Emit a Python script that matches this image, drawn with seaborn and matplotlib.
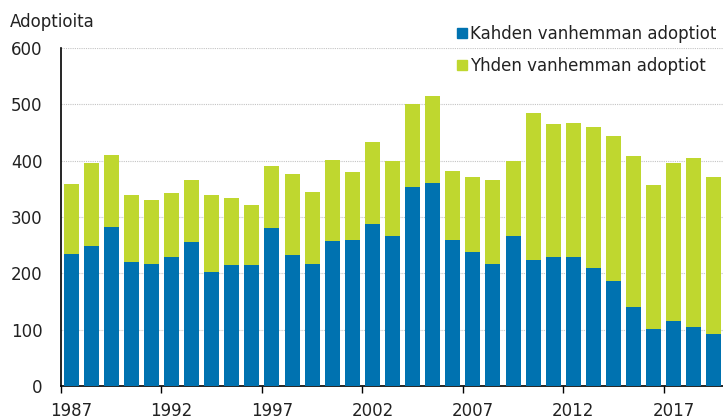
import numpy as np
import pandas as pd
import matplotlib
matplotlib.use('Agg')
from matplotlib import pyplot as plt
from matplotlib.lines import Line2D
import seaborn as sns

years = list(range(1987, 2020))
kahden = [235, 249, 283, 220, 217, 229, 255, 203, 215, 215, 280, 232, 217, 258, 260,
          288, 266, 354, 360, 260, 238, 217, 266, 223, 229, 229, 209, 186, 141, 101,
          115, 104, 93]
yhteensa = [359, 396, 410, 339, 331, 342, 365, 339, 334, 322, 391, 376, 345, 402, 379,
            433, 399, 501, 515, 382, 371, 365, 399, 485, 465, 467, 459, 444, 408, 356,
            396, 405, 371]
yhden = [t - k for t, k in zip(yhteensa, kahden)]

sininen = '#0072B0'
vihrea = '#BFD72F'

df = pd.DataFrame({'Vuosi': [str(y) for y in years], 'Kahden': kahden, 'Yhteensa': yhteensa})

sns.set_style('white')
plt.rcParams['font.family'] = ['DejaVu Sans']

fig = plt.figure(figsize=(7.23, 4.19), dpi=100)
ax = fig.add_axes([61 / 723, (419 - 386) / 419, 662 / 723, 338 / 419])

# kokonaispylväs vihreänä, kahden vanhemman osuus sinisenä päälle
sns.barplot(data=df, x='Vuosi', y='Yhteensa', color=vihrea, width=0.75,
            saturation=1, errorbar=None, linewidth=0, ax=ax, zorder=2)
sns.barplot(data=df, x='Vuosi', y='Kahden', color=sininen, width=0.75,
            saturation=1, errorbar=None, linewidth=0, ax=ax, zorder=3)

ax.set_ylim(0, 600)
ax.set_xlim(-0.45, 32.45)
ax.set_yticks(range(0, 601, 100))
ax.yaxis.grid(True, color='#c4c4c4', linestyle=(0, (1, 1)), linewidth=0.8, zorder=0)
ax.set_axisbelow(True)

# väliviivat vuosien väliin, vuosiluvut pylväiden kohdalle
ax.set_xticks([i - 0.5 for i in range(0, 33, 5)])
ax.set_xticklabels([''] * 7)
ax.set_xticks(range(0, 33, 5), minor=True)
ax.set_xticklabels([str(years[i]) for i in range(0, 33, 5)], minor=True)
ax.tick_params(axis='x', which='major', bottom=True, length=5, width=1,
               direction='out', color='black')
ax.tick_params(axis='x', which='minor', bottom=True, length=0, pad=11.5,
               labelsize=12, labelcolor='#222222')
ax.tick_params(axis='y', left=False, length=0, pad=13.5, labelsize=12, colors='#222222')
ax.set_xlabel('')
ax.set_ylabel('')

for s in ['top', 'right']:
    ax.spines[s].set_visible(False)
for s in ['left', 'bottom']:
    ax.spines[s].set_color('black')
    ax.spines[s].set_linewidth(1.2)

fig.text(10 / 723, 1 - 27 / 419, 'Adoptioita', fontsize=12, color='#222222', va='baseline')

handles = [Line2D([], [], marker='s', linestyle='', color=sininen, markersize=6.8),
           Line2D([], [], marker='s', linestyle='', color=vihrea, markersize=6.8)]
leg = fig.legend(handles, ['Kahden vanhemman adoptiot', 'Yhden vanhemman adoptiot'],
                 loc='upper left', bbox_to_anchor=(454 / 723, 1 - 25 / 419),
                 frameon=False, fontsize=12, handlelength=0.9, handletextpad=0.05,
                 labelspacing=0.85, borderpad=0, borderaxespad=0)
for t in leg.get_texts():
    t.set_color('#222222')

fig.savefig('out.png', dpi=100)
